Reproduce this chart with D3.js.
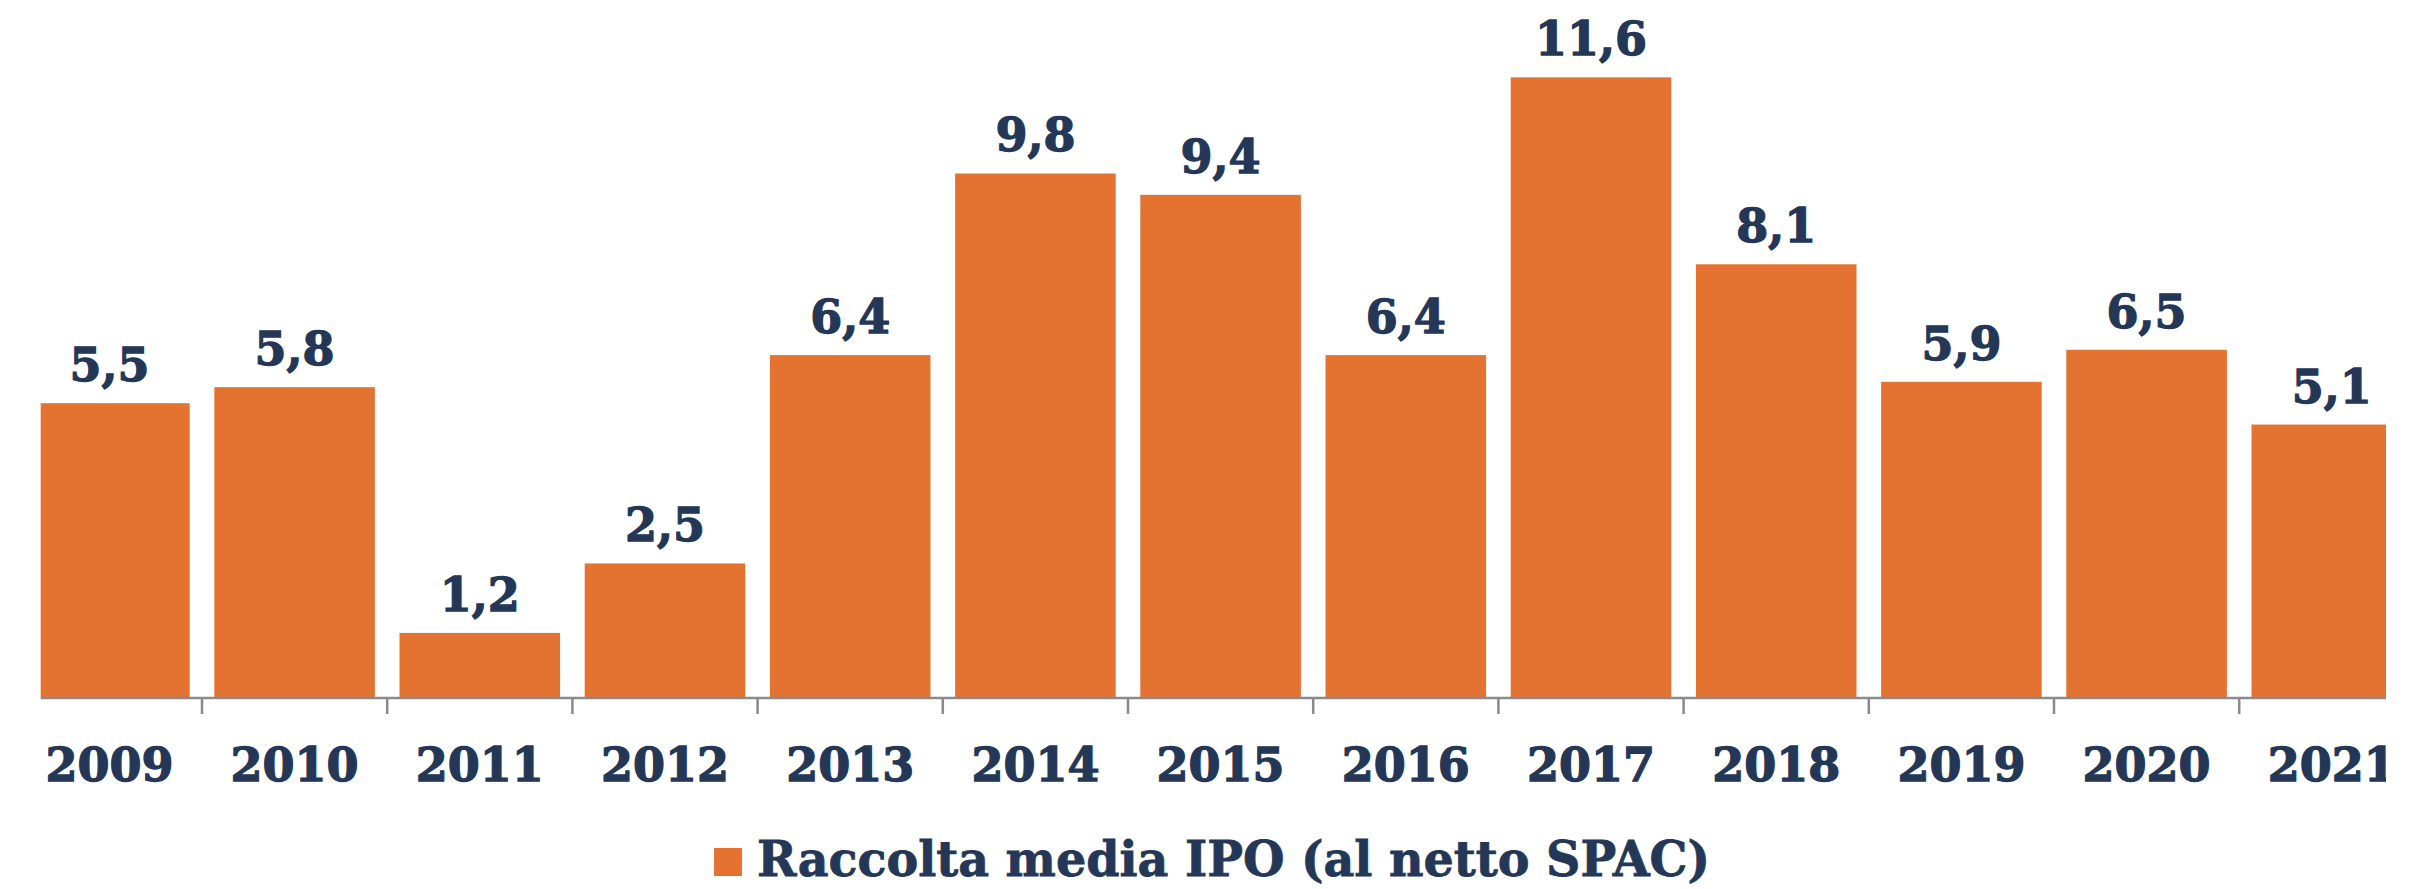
<!DOCTYPE html>
<html>
<head>
<meta charset="utf-8">
<script src="https://cdn.jsdelivr.net/npm/d3@7"></script>
<style>
  html, body { margin: 0; padding: 0; background: #ffffff; }
  svg { display: block; }
</style>
</head>
<body>
<svg id="chart" width="2434" height="889"></svg>
<script>
const years = ["2009","2010","2011","2012","2013","2014","2015","2016","2017","2018","2019","2020","2021"];
const values = [5.5, 5.8, 1.2, 2.5, 6.4, 9.8, 9.4, 6.4, 11.6, 8.1, 5.9, 6.5, 5.1];
const valueLabels = ["5,5","5,8","1,2","2,5","6,4","9,8","9,4","6,4","11,6","8,1","5,9","6,5","5,1"];
const seriesName = "Raccolta media IPO (al netto SPAC)";

const W = 2434, H = 889;
const ORANGE = "#E47230", NAVY = "#243757", GREY = "#8a8a8a";
const FONT = "'DejaVu Serif', Georgia, serif";

const svg = d3.select("#chart");

const baseY = 697;
const x = d3.scaleBand().domain(years).range([16.8, 2424.4]).paddingInner(0.133).paddingOuter(0.0665);
const y = d3.scaleLinear().domain([0, 13]).range([baseY, baseY - 13 * 53.42]);

svg.append("defs").append("clipPath").attr("id", "clip")
  .append("rect").attr("x", 40.7).attr("y", 0).attr("width", 2386 - 40.7).attr("height", H);

const g = svg.append("g").attr("clip-path", "url(#clip)");

// bars
g.selectAll("rect.bar").data(years).join("rect")
  .attr("class", "bar")
  .attr("x", d => x(d))
  .attr("width", x.bandwidth())
  .attr("y", (d, i) => y(values[i]))
  .attr("height", (d, i) => baseY - y(values[i]))
  .attr("fill", ORANGE);

// value labels
g.selectAll("text.val").data(years).join("text")
  .attr("class", "val")
  .attr("x", d => x(d) + x.bandwidth() / 2)
  .attr("y", (d, i) => y(values[i]) - 22)
  .attr("text-anchor", "middle")
  .attr("font-family", FONT)
  .attr("font-weight", "bold")
  .attr("font-size", 46)
  .attr("fill", NAVY)
  .attr("stroke", NAVY)
  .attr("stroke-width", 1.3)
  .text((d, i) => valueLabels[i]);

// axis
const axis = d3.axisBottom(x).tickSize(0).tickPadding(0);
const ag = g.append("g").attr("transform", `translate(0,${baseY + 1})`).call(axis);
ag.select(".domain").attr("stroke", GREY).attr("stroke-width", 2.5)
  .attr("d", `M${x.range()[0]},0H${x.range()[1]}`);
ag.selectAll(".tick text")
  .attr("dy", 0)
  .attr("y", 781 - (baseY + 1))
  .attr("font-family", FONT)
  .attr("font-weight", "bold")
  .attr("font-size", 46)
  .attr("fill", NAVY)
  .attr("stroke", NAVY)
  .attr("stroke-width", 1.3);

// boundary ticks
const bounds = years.slice(1).map(d => x(d) - x.step() * x.paddingInner() / 2);
ag.selectAll("line.bound").data(bounds).join("line")
  .attr("class", "bound")
  .attr("x1", d => d).attr("x2", d => d)
  .attr("y1", 0).attr("y2", 16)
  .attr("stroke", GREY).attr("stroke-width", 2.5);

// legend
const lg = svg.append("g");
lg.append("rect").attr("x", 714).attr("y", 848).attr("width", 28).attr("height", 28).attr("fill", ORANGE);
lg.append("text")
  .attr("x", 757).attr("y", 876)
  .attr("font-family", FONT)
  .attr("font-weight", "bold")
  .attr("font-size", 48)
  .attr("fill", NAVY)
  .attr("stroke", NAVY)
  .attr("stroke-width", 0.8)
  .attr("textLength", 953)
  .attr("lengthAdjust", "spacingAndGlyphs")
  .text(seriesName);
</script>
</body>
</html>
